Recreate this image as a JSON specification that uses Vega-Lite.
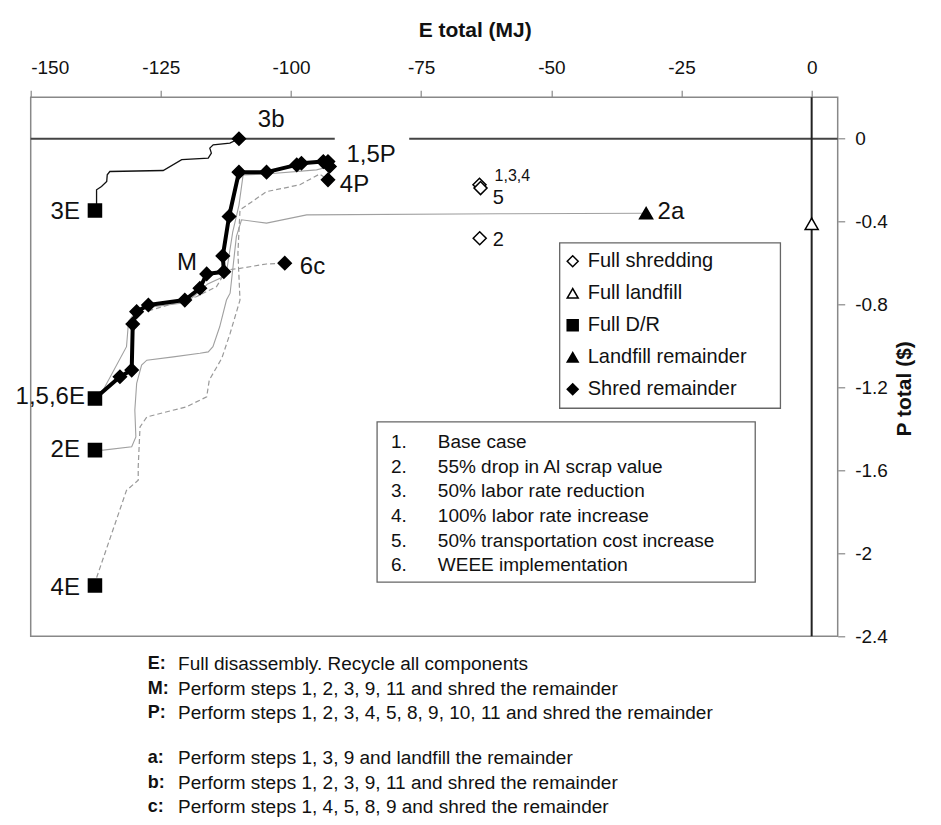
{
  "$schema": "https://vega.github.io/schema/vega-lite/v6.json",
  "width": 807,
  "height": 539,
  "autosize": {"type": "none"},
  "padding": {"left": 30.7, "top": 97.3, "right": 103.3, "bottom": 189},
  "background": "white",
  "config": {
    "font": "Liberation Sans",
    "view": {"stroke": "#888", "strokeWidth": 1.5},
    "axis": {
      "grid": false, "domain": false, "tickColor": "#888", "tickSize": 7, "tickWidth": 1.2,
      "labelFont": "Liberation Sans", "labelFontSize": 19, "labelColor": "#111",
      "titleFont": "Liberation Sans", "titleFontSize": 21, "titleFontWeight": "bold", "titleColor": "#111"
    },
    "legend": {
      "orient": "none", "legendX": 532, "legendY": 154, "padding": 0,
      "labelFont": "Liberation Sans", "labelFontSize": 20, "labelColor": "#111", "symbolSize": 120,
      "symbolStrokeWidth": 1.5, "rowPadding": 12, "labelOffset": 5
    }
  },
  "datasets": {
    "lines": [
      {"series": "base", "i": 0, "x": -137.66, "y": -1.253},
      {"series": "base", "i": 1, "x": -132.86, "y": -1.148},
      {"series": "base", "i": 2, "x": -130.6, "y": -1.116},
      {"series": "base", "i": 3, "x": -130.4, "y": -0.894},
      {"series": "base", "i": 4, "x": -129.65, "y": -0.834},
      {"series": "base", "i": 5, "x": -127.4, "y": -0.802},
      {"series": "base", "i": 6, "x": -120.4, "y": -0.778},
      {"series": "base", "i": 7, "x": -117.5, "y": -0.721},
      {"series": "base", "i": 8, "x": -116.2, "y": -0.652},
      {"series": "base", "i": 9, "x": -112.9, "y": -0.641},
      {"series": "base", "i": 10, "x": -113.1, "y": -0.565},
      {"series": "base", "i": 11, "x": -111.9, "y": -0.375},
      {"series": "base", "i": 12, "x": -110.0, "y": -0.161},
      {"series": "base", "i": 13, "x": -104.7, "y": -0.161},
      {"series": "base", "i": 14, "x": -98.9, "y": -0.126},
      {"series": "base", "i": 15, "x": -98.0, "y": -0.118},
      {"series": "base", "i": 16, "x": -93.8, "y": -0.11},
      {"series": "base", "i": 17, "x": -92.9, "y": -0.11},
      {"series": "base", "i": 18, "x": -92.6, "y": -0.134},

      {"series": "s3", "i": 0, "x": -137.66, "y": -0.346},
      {"series": "s3", "i": 1, "x": -137.35, "y": -0.319},
      {"series": "s3", "i": 2, "x": -137.35, "y": -0.246},
      {"series": "s3", "i": 3, "x": -136.4, "y": -0.23},
      {"series": "s3", "i": 4, "x": -135.4, "y": -0.206},
      {"series": "s3", "i": 5, "x": -135.3, "y": -0.174},
      {"series": "s3", "i": 6, "x": -134.8, "y": -0.158},
      {"series": "s3", "i": 7, "x": -124.55, "y": -0.153},
      {"series": "s3", "i": 8, "x": -121.0, "y": -0.101},
      {"series": "s3", "i": 9, "x": -115.9, "y": -0.093},
      {"series": "s3", "i": 10, "x": -115.3, "y": -0.069},
      {"series": "s3", "i": 11, "x": -115.6, "y": -0.045},
      {"series": "s3", "i": 12, "x": -114.95, "y": -0.029},
      {"series": "s3", "i": 13, "x": -111.75, "y": -0.021},
      {"series": "s3", "i": 14, "x": -110.0, "y": 0},

      {"series": "s2", "i": 0, "x": -137.66, "y": -1.502},
      {"series": "s2", "i": 1, "x": -136.07, "y": -1.502},
      {"series": "s2", "i": 2, "x": -130.6, "y": -1.486},
      {"series": "s2", "i": 3, "x": -129.8, "y": -1.438},
      {"series": "s2", "i": 4, "x": -130.0, "y": -1.309},
      {"series": "s2", "i": 5, "x": -129.65, "y": -1.18},
      {"series": "s2", "i": 6, "x": -128.7, "y": -1.092},
      {"series": "s2", "i": 7, "x": -127.7, "y": -1.068},
      {"series": "s2", "i": 8, "x": -122.6, "y": -1.052},
      {"series": "s2", "i": 9, "x": -117.5, "y": -1.035},
      {"series": "s2", "i": 10, "x": -115.9, "y": -1.028},
      {"series": "s2", "i": 11, "x": -115.0, "y": -1.003},
      {"series": "s2", "i": 12, "x": -113.7, "y": -0.907},
      {"series": "s2", "i": 13, "x": -112.4, "y": -0.778},
      {"series": "s2", "i": 14, "x": -111.7, "y": -0.745},
      {"series": "s2", "i": 15, "x": -110.5, "y": -0.472},
      {"series": "s2", "i": 16, "x": -109.5, "y": -0.391},
      {"series": "s2", "i": 17, "x": -104.7, "y": -0.407},
      {"series": "s2", "i": 18, "x": -97.0, "y": -0.367},
      {"series": "s2", "i": 19, "x": -60.0, "y": -0.362},
      {"series": "s2", "i": 20, "x": -31.8, "y": -0.359},

      {"series": "s4", "i": 0, "x": -137.66, "y": -2.155},
      {"series": "s4", "i": 1, "x": -137.3, "y": -2.114},
      {"series": "s4", "i": 2, "x": -131.6, "y": -1.696},
      {"series": "s4", "i": 3, "x": -129.35, "y": -1.647},
      {"series": "s4", "i": 4, "x": -129.35, "y": -1.583},
      {"series": "s4", "i": 5, "x": -129.0, "y": -1.39},
      {"series": "s4", "i": 6, "x": -127.7, "y": -1.342},
      {"series": "s4", "i": 7, "x": -120.1, "y": -1.293},
      {"series": "s4", "i": 8, "x": -116.2, "y": -1.245},
      {"series": "s4", "i": 9, "x": -115.7, "y": -1.164},
      {"series": "s4", "i": 10, "x": -113.3, "y": -1.059},
      {"series": "s4", "i": 11, "x": -111.7, "y": -0.939},
      {"series": "s4", "i": 12, "x": -109.8, "y": -0.778},
      {"series": "s4", "i": 13, "x": -110.2, "y": -0.552},
      {"series": "s4", "i": 14, "x": -109.8, "y": -0.343},
      {"series": "s4", "i": 15, "x": -104.7, "y": -0.255},
      {"series": "s4", "i": 16, "x": -98.3, "y": -0.222},
      {"series": "s4", "i": 17, "x": -94.5, "y": -0.17},
      {"series": "s4", "i": 18, "x": -92.9, "y": -0.198},

      {"series": "s6", "i": 0, "x": -127.4, "y": -0.83},
      {"series": "s6", "i": 1, "x": -118.2, "y": -0.762},
      {"series": "s6", "i": 2, "x": -114.3, "y": -0.713},
      {"series": "s6", "i": 3, "x": -112.4, "y": -0.633},
      {"series": "s6", "i": 4, "x": -109.8, "y": -0.625},
      {"series": "s6", "i": 5, "x": -104.7, "y": -0.604},
      {"series": "s6", "i": 6, "x": -101.2, "y": -0.6},

      {"series": "s5", "i": 0, "x": -137.6, "y": -1.25},
      {"series": "s5", "i": 1, "x": -136.1, "y": -1.213},
      {"series": "s5", "i": 2, "x": -131.6, "y": -1.003},
      {"series": "s5", "i": 3, "x": -131.2, "y": -0.88},
      {"series": "s5", "i": 4, "x": -129.4, "y": -0.82},
      {"series": "s5", "i": 5, "x": -120.0, "y": -0.79},
      {"series": "s5", "i": 6, "x": -116.0, "y": -0.7},
      {"series": "s5", "i": 7, "x": -112.5, "y": -0.66},
      {"series": "s5", "i": 8, "x": -111.2, "y": -0.45},
      {"series": "s5", "i": 9, "x": -110.0, "y": -0.32},
      {"series": "s5", "i": 10, "x": -109.2, "y": -0.174},
      {"series": "s5", "i": 11, "x": -104.7, "y": -0.17},
      {"series": "s5", "i": 12, "x": -95.1, "y": -0.15},
      {"series": "s5", "i": 13, "x": -93.5, "y": -0.14}
    ],
    "points": [
      {"name": "3E", "type": "Full D/R", "x": -137.66, "y": -0.346},
      {"name": "1,5,6E", "type": "Full D/R", "x": -137.66, "y": -1.253},
      {"name": "2E", "type": "Full D/R", "x": -137.66, "y": -1.502},
      {"name": "4E", "type": "Full D/R", "x": -137.66, "y": -2.155},
      {"name": "2a", "type": "Landfill remainder", "x": -31.8, "y": -0.359},
      {"name": "Full landfill", "type": "Full landfill", "x": 0, "y": -0.41},
      {"name": "1,3,4", "type": "Full shredding", "x": -63.8, "y": -0.222},
      {"name": "5", "type": "Full shredding", "x": -63.6, "y": -0.238},
      {"name": "2", "type": "Full shredding", "x": -63.76, "y": -0.48},
      {"name": "3b", "type": "Shred remainder", "x": -110.0, "y": 0},
      {"name": "6c", "type": "Shred remainder", "x": -101.2, "y": -0.6},
      {"name": "4P", "type": "Shred remainder", "x": -92.9, "y": -0.198},
      {"name": "b1", "type": "Shred remainder", "x": -132.86, "y": -1.148},
      {"name": "b2", "type": "Shred remainder", "x": -130.6, "y": -1.116},
      {"name": "b3", "type": "Shred remainder", "x": -130.4, "y": -0.894},
      {"name": "b4", "type": "Shred remainder", "x": -129.65, "y": -0.834},
      {"name": "b5", "type": "Shred remainder", "x": -127.4, "y": -0.802},
      {"name": "b6", "type": "Shred remainder", "x": -120.4, "y": -0.778},
      {"name": "b7", "type": "Shred remainder", "x": -117.5, "y": -0.721},
      {"name": "M", "type": "Shred remainder", "x": -116.2, "y": -0.652},
      {"name": "b9", "type": "Shred remainder", "x": -112.9, "y": -0.641},
      {"name": "b10", "type": "Shred remainder", "x": -113.1, "y": -0.565},
      {"name": "b11", "type": "Shred remainder", "x": -111.9, "y": -0.375},
      {"name": "b12", "type": "Shred remainder", "x": -110.0, "y": -0.161},
      {"name": "b13", "type": "Shred remainder", "x": -104.7, "y": -0.161},
      {"name": "b14", "type": "Shred remainder", "x": -98.9, "y": -0.126},
      {"name": "b15", "type": "Shred remainder", "x": -98.0, "y": -0.118},
      {"name": "b16", "type": "Shred remainder", "x": -93.8, "y": -0.11},
      {"name": "1,5P", "type": "Shred remainder", "x": -92.9, "y": -0.11},
      {"name": "b18", "type": "Shred remainder", "x": -92.6, "y": -0.134}
    ],
    "hlines": [
      {"x": -150, "x2": -91.6, "y": 0},
      {"x": -77.3, "x2": 5, "y": 0}
    ],
    "vline": [{"x": 0, "y": -2.4, "y2": 0.2}],
    "boxes": [
      {"box": "legend", "x": -48.4, "x2": -6.0, "y": -0.502, "y2": -1.3},
      {"box": "scenarios", "x": -83.47, "x2": -10.84, "y": -1.366, "y2": -2.139}
    ],
    "labelsLeft": [
      {"label": "3E", "x": -140.54, "y": -0.353},
      {"label": "1,5,6E", "x": -139.58, "y": -1.245},
      {"label": "2E", "x": -140.54, "y": -1.502},
      {"label": "4E", "x": -140.54, "y": -2.169},
      {"label": "M", "x": -118.08, "y": -0.599}
    ],
    "labelsRight": [
      {"label": "3b", "x": -106.37, "y": 0.092},
      {"label": "1,5P", "x": -89.35, "y": -0.077},
      {"label": "4P", "x": -90.63, "y": -0.222},
      {"label": "6c", "x": -98.31, "y": -0.617},
      {"label": "2a", "x": -29.6, "y": -0.351}
    ],
    "labelsSmall": [
      {"label": "5", "x": -61.27, "y": -0.285},
      {"label": "2", "x": -61.27, "y": -0.488}
    ],
    "labelsTiny": [
      {"label": "1,3,4", "x": -60.9, "y": -0.182}
    ],
    "scenarios": [
      {"num": "1.", "desc": "Base case", "xn": -80.8, "x": -71.8, "y": -1.462},
      {"num": "2.", "desc": "55% drop in Al scrap value", "xn": -80.8, "x": -71.8, "y": -1.581},
      {"num": "3.", "desc": "50% labor rate reduction", "xn": -80.8, "x": -71.8, "y": -1.7},
      {"num": "4.", "desc": "100% labor rate increase", "xn": -80.8, "x": -71.8, "y": -1.82},
      {"num": "5.", "desc": "50% transportation cost increase", "xn": -80.8, "x": -71.8, "y": -1.939},
      {"num": "6.", "desc": "WEEE implementation", "xn": -80.8, "x": -71.8, "y": -2.058}
    ],
    "notes": [
      {"key": "E:", "desc": "Full disassembly.  Recycle all components", "xk": -127.5, "x": -121.7, "y": -2.536},
      {"key": "M:", "desc": "Perform steps 1, 2, 3, 9, 11 and shred the remainder", "xk": -127.5, "x": -121.7, "y": -2.652},
      {"key": "P:", "desc": "Perform steps 1, 2, 3, 4, 5, 8, 9, 10, 11 and shred the remainder", "xk": -127.5, "x": -121.7, "y": -2.768},
      {"key": "a:", "desc": "Perform steps 1, 3, 9 and landfill the remainder", "xk": -127.5, "x": -121.7, "y": -2.986},
      {"key": "b:", "desc": "Perform steps 1, 2, 3, 9, 11 and shred the remainder", "xk": -127.5, "x": -121.7, "y": -3.106},
      {"key": "c:", "desc": "Perform steps 1, 4, 5, 8, 9 and shred the remainder", "xk": -127.5, "x": -121.7, "y": -3.222}
    ]
  },
  "encoding": {
    "x": {
      "field": "x", "type": "quantitative",
      "scale": {"domain": [-150, 5], "nice": false, "zero": false},
      "axis": {
        "orient": "top", "title": "E total (MJ)", "values": [-150, -125, -100, -75, -50, -25, 0],
        "labelExpr": "'' + datum.value", "labelPadding": 13,
        "titleX": 444, "titleY": -67, "titleAlign": "center", "titleBaseline": "middle"
      }
    },
    "y": {
      "field": "y", "type": "quantitative",
      "scale": {"domain": [-2.4, 0.2], "nice": false, "zero": false},
      "axis": {
        "orient": "right", "title": "P total ($)", "values": [0, -0.4, -0.8, -1.2, -1.6, -2, -2.4],
        "labelExpr": "'' + datum.value", "labelPadding": 10, "labelAlign": "left",
        "titleAngle": 270, "titleX": 67, "titleY": 291, "titleAlign": "center", "titleBaseline": "middle"
      }
    }
  },
  "layer": [
    {
      "data": {"name": "boxes"},
      "mark": {"type": "rect", "fill": "white", "stroke": "#666", "strokeWidth": 1.3},
      "encoding": {"x2": {"field": "x2"}, "y2": {"field": "y2"}}
    },
    {
      "data": {"name": "lines"},
      "transform": [{"filter": "datum.series === 's2' || datum.series === 's5'"}],
      "mark": {"type": "line", "stroke": "#a0a0a0", "strokeWidth": 1.1},
      "encoding": {"detail": {"field": "series"}, "order": {"field": "i", "type": "quantitative"}}
    },
    {
      "data": {"name": "lines"},
      "transform": [{"filter": "datum.series === 's4' || datum.series === 's6'"}],
      "mark": {"type": "line", "stroke": "#999999", "strokeWidth": 1.2, "strokeDash": [5, 3]},
      "encoding": {"detail": {"field": "series"}, "order": {"field": "i", "type": "quantitative"}}
    },
    {
      "data": {"name": "lines"},
      "transform": [{"filter": "datum.series === 's3'"}],
      "mark": {"type": "line", "stroke": "#111111", "strokeWidth": 1.3},
      "encoding": {"order": {"field": "i", "type": "quantitative"}}
    },
    {
      "data": {"name": "lines"},
      "transform": [{"filter": "datum.series === 'base'"}],
      "mark": {"type": "line", "stroke": "#000000", "strokeWidth": 4, "strokeJoin": "round"},
      "encoding": {"order": {"field": "i", "type": "quantitative"}}
    },
    {
      "data": {"name": "hlines"},
      "mark": {"type": "rule", "stroke": "#444", "strokeWidth": 2},
      "encoding": {"x2": {"field": "x2"}}
    },
    {
      "data": {"name": "vline"},
      "mark": {"type": "rule", "stroke": "#222", "strokeWidth": 2},
      "encoding": {"y2": {"field": "y2"}}
    },
    {
      "data": {"name": "points"},
      "mark": {"type": "point", "filled": true, "strokeWidth": 1.5, "opacity": 1, "size": 170},
      "encoding": {
        "shape": {"field": "type", "type": "nominal", "title": null,
          "scale": {"domain": ["Full shredding", "Full landfill", "Full D/R", "Landfill remainder", "Shred remainder"],
                    "range": ["diamond", "triangle-up", "square", "triangle-up", "diamond"]}},
        "fill": {"field": "type", "type": "nominal", "title": null,
          "scale": {"domain": ["Full shredding", "Full landfill", "Full D/R", "Landfill remainder", "Shred remainder"],
                    "range": ["white", "white", "black", "black", "black"]}},
        "stroke": {"field": "type", "type": "nominal", "title": null,
          "scale": {"domain": ["Full shredding", "Full landfill", "Full D/R", "Landfill remainder", "Shred remainder"],
                    "range": ["black", "black", "black", "black", "black"]}}
      }
    },
    {
      "data": {"name": "labelsLeft"},
      "mark": {"type": "text", "align": "right", "baseline": "middle", "fontSize": 24, "font": "Liberation Sans", "color": "#111"},
      "encoding": {"text": {"field": "label"}}
    },
    {
      "data": {"name": "labelsRight"},
      "mark": {"type": "text", "align": "left", "baseline": "middle", "fontSize": 24, "font": "Liberation Sans", "color": "#111"},
      "encoding": {"text": {"field": "label"}}
    },
    {
      "data": {"name": "labelsSmall"},
      "mark": {"type": "text", "align": "left", "baseline": "middle", "fontSize": 20, "font": "Liberation Sans", "color": "#111"},
      "encoding": {"text": {"field": "label"}}
    },
    {
      "data": {"name": "labelsTiny"},
      "mark": {"type": "text", "align": "left", "baseline": "middle", "fontSize": 16, "font": "Liberation Sans", "color": "#111"},
      "encoding": {"text": {"field": "label"}}
    },
    {
      "data": {"name": "scenarios"},
      "mark": {"type": "text", "align": "left", "baseline": "middle", "fontSize": 19, "font": "Liberation Sans", "color": "#111"},
      "encoding": {"x": {"field": "xn", "type": "quantitative"}, "text": {"field": "num"}}
    },
    {
      "data": {"name": "scenarios"},
      "mark": {"type": "text", "align": "left", "baseline": "middle", "fontSize": 19, "font": "Liberation Sans", "color": "#111"},
      "encoding": {"text": {"field": "desc"}}
    },
    {
      "data": {"name": "notes"},
      "mark": {"type": "text", "align": "left", "baseline": "middle", "fontSize": 18, "fontWeight": "bold", "font": "Liberation Sans", "color": "#111"},
      "encoding": {"x": {"field": "xk", "type": "quantitative"}, "text": {"field": "key"}}
    },
    {
      "data": {"name": "notes"},
      "mark": {"type": "text", "align": "left", "baseline": "middle", "fontSize": 19, "font": "Liberation Sans", "color": "#111"},
      "encoding": {"text": {"field": "desc"}}
    }
  ]
}
